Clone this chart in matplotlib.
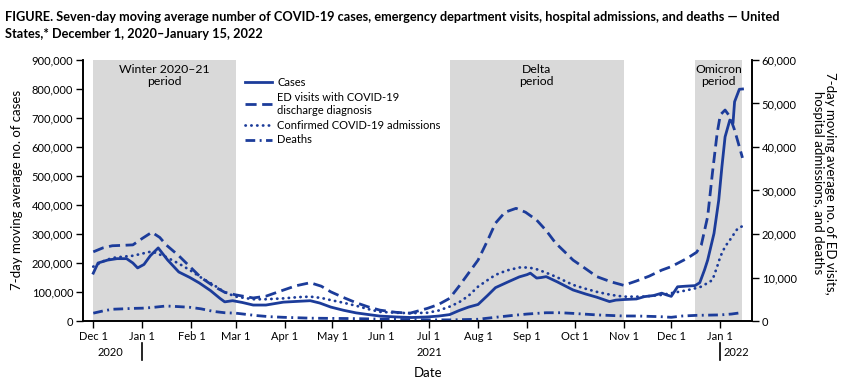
import pandas as pd
import matplotlib
matplotlib.use("Agg")
import matplotlib.pyplot as plt
import matplotlib.transforms as mtransforms
from matplotlib.ticker import FuncFormatter

plt.rcParams["font.family"] = ["Lato", "DejaVu Sans"]

# ---- data ----
case_dates = ["2020-12-01", "2020-12-04", "2020-12-10", "2020-12-16", "2020-12-22", "2020-12-26",
              "2020-12-29", "2021-01-02", "2021-01-06", "2021-01-11", "2021-01-17", "2021-01-24",
              "2021-01-31", "2021-02-06", "2021-02-13", "2021-02-19", "2021-02-22", "2021-02-27",
              "2021-03-05", "2021-03-12", "2021-03-20", "2021-03-31", "2021-04-10", "2021-04-17",
              "2021-04-23", "2021-04-30", "2021-05-08", "2021-05-16", "2021-05-24", "2021-05-31",
              "2021-06-10", "2021-06-20", "2021-06-30", "2021-07-07", "2021-07-14", "2021-07-20",
              "2021-07-26", "2021-08-01", "2021-08-07", "2021-08-12", "2021-08-20", "2021-08-27",
              "2021-09-01", "2021-09-03", "2021-09-07", "2021-09-10", "2021-09-13", "2021-09-20",
              "2021-09-30", "2021-10-08", "2021-10-15", "2021-10-23", "2021-10-27", "2021-11-01",
              "2021-11-09", "2021-11-14", "2021-11-20", "2021-11-25", "2021-11-28", "2021-12-01",
              "2021-12-05", "2021-12-10", "2021-12-16", "2021-12-19", "2021-12-22", "2021-12-24",
              "2021-12-28", "2021-12-31", "2022-01-02", "2022-01-04", "2022-01-07", "2022-01-09",
              "2022-01-10", "2022-01-13", "2022-01-15"]
cases = [165000, 200000, 210000, 215000, 215000, 200000,
         183000, 195000, 225000, 252000, 210000, 169000,
         150000, 131000, 105000, 78000, 66000, 70000,
         64000, 55000, 55000, 65000, 68000, 70000,
         62000, 48000, 37000, 28000, 22000, 17000,
         14000, 12000, 14000, 17000, 22000, 36000,
         48000, 57000, 88000, 115000, 135000, 152000,
         160000, 165000, 148000, 150000, 153000, 135000,
         107000, 93000, 82000, 67000, 72000, 74000,
         76000, 84000, 88000, 96000, 90000, 85000,
         118000, 120000, 122000, 132000, 176000, 210000,
         302000, 417000, 532000, 635000, 693000, 682000,
         756000, 799000, 800000]

ed_dates = ["2020-12-01", "2020-12-07", "2020-12-13", "2020-12-20", "2020-12-26", "2021-01-01",
            "2021-01-07", "2021-01-12", "2021-01-16", "2021-01-24", "2021-01-31", "2021-02-07",
            "2021-02-15", "2021-02-22", "2021-03-01", "2021-03-12", "2021-03-20", "2021-03-31",
            "2021-04-08", "2021-04-17", "2021-04-24", "2021-04-30", "2021-05-08", "2021-05-16",
            "2021-05-24", "2021-05-31", "2021-06-10", "2021-06-19", "2021-06-30", "2021-07-07",
            "2021-07-14", "2021-07-20", "2021-07-26", "2021-08-01", "2021-08-07", "2021-08-12",
            "2021-08-18", "2021-08-25", "2021-08-31", "2021-09-07", "2021-09-13", "2021-09-19",
            "2021-09-25", "2021-09-30", "2021-10-08", "2021-10-15", "2021-10-24", "2021-11-01",
            "2021-11-09", "2021-11-17", "2021-11-25", "2021-12-01", "2021-12-11", "2021-12-17",
            "2021-12-20", "2021-12-24", "2021-12-27", "2021-12-30", "2022-01-01", "2022-01-04",
            "2022-01-07", "2022-01-10", "2022-01-15"]
ed_visits = [15900, 16800, 17300, 17400, 17500, 19000,
             20400, 19200, 17500, 15000, 12500, 10000,
             8000, 6600, 6000, 5300, 5700, 7100,
             8100, 8800, 8000, 6700, 5400, 4200,
             3200, 2500, 2000, 1800, 2900, 3800,
             5200, 8000, 11000, 14000, 18500, 22500,
             25000, 25900, 25000, 23200, 20800, 17900,
             15800, 14000, 12000, 10200, 9000, 8200,
             9200, 10300, 11700, 12500, 14400, 15800,
             17500, 24000, 34000, 43200, 47400, 48500,
             47000, 43900, 37500]

adm_dates = ["2020-12-01", "2020-12-07", "2020-12-13", "2020-12-20", "2020-12-26", "2021-01-01",
             "2021-01-07", "2021-01-16", "2021-01-24", "2021-01-31", "2021-02-07", "2021-02-15",
             "2021-02-22", "2021-03-01", "2021-03-12", "2021-03-20", "2021-03-31", "2021-04-10",
             "2021-04-17", "2021-04-24", "2021-04-30", "2021-05-08", "2021-05-16", "2021-05-24",
             "2021-05-31", "2021-06-10", "2021-06-19", "2021-06-30", "2021-07-07", "2021-07-14",
             "2021-07-20", "2021-07-26", "2021-08-01", "2021-08-07", "2021-08-12", "2021-08-19",
             "2021-08-27", "2021-09-02", "2021-09-07", "2021-09-13", "2021-09-19", "2021-09-30",
             "2021-10-08", "2021-10-15", "2021-10-24", "2021-11-01", "2021-11-13", "2021-11-25",
             "2021-12-01", "2021-12-10", "2021-12-16", "2021-12-20", "2021-12-27", "2021-12-30",
             "2022-01-01", "2022-01-04", "2022-01-07", "2022-01-12", "2022-01-15"]
admissions = [12500, 13700, 14500, 14800, 15000, 15500,
              16000, 14700, 13200, 11700, 10000, 8300,
              6600, 5600, 5000, 5000, 5200, 5500,
              5600, 5300, 4800, 4200, 3500, 2700,
              2100, 1900, 1800, 1900, 2400, 3300,
              4300, 5800, 7900, 9400, 10600, 11600,
              12300, 12300, 11900, 11100, 10200, 8300,
              7400, 6700, 6000, 5600, 5600, 6000,
              6400, 7000, 7500, 7900, 9400, 12500,
              14800, 17100, 18600, 21300, 21800]

death_dates = ["2020-12-01", "2020-12-07", "2020-12-13", "2020-12-20", "2020-12-26", "2021-01-01",
               "2021-01-07", "2021-01-16", "2021-01-24", "2021-01-31", "2021-02-07", "2021-02-15",
               "2021-02-22", "2021-03-01", "2021-03-08", "2021-03-14", "2021-03-22", "2021-03-31",
               "2021-04-17", "2021-05-01", "2021-05-16", "2021-06-01", "2021-06-15", "2021-07-01",
               "2021-07-15", "2021-08-01", "2021-08-12", "2021-08-22", "2021-09-01", "2021-09-13",
               "2021-09-22", "2021-09-30", "2021-10-15", "2021-11-01", "2021-11-09", "2021-11-24",
               "2021-12-01", "2021-12-08", "2021-12-17", "2022-01-01", "2022-01-08", "2022-01-15"]
deaths = [1800, 2300, 2700, 2800, 2900, 2950,
          3100, 3450, 3300, 3150, 2800, 2200,
          1900, 1800, 1500, 1250, 1000, 850,
          650, 600, 550, 420, 330, 260,
          260, 400, 850, 1250, 1600, 1900,
          1900, 1750, 1400, 1150, 1150, 1000,
          850, 1150, 1300, 1400, 1600, 1950]

periods = [("2020-12-01", "2021-03-01", "Winter 2020–21\nperiod"),
           ("2021-07-14", "2021-11-01", "Delta\nperiod"),
           ("2021-12-16", "2022-01-15", "Omicron\nperiod")]

month_ticks = pd.date_range("2020-12-01", "2022-01-01", freq="MS")
month_labels = [d.strftime("%b ") + str(d.day) for d in month_ticks]

blue = "#1c3c9a"
shade = "#d9d9d9"

fig = plt.figure(figsize=(8.5, 3.83), dpi=100)
ax = fig.add_axes([83 / 850, 1 - 321 / 383, 669 / 850, 261 / 383])
ax2 = ax.twinx()

trans = mtransforms.blended_transform_factory(ax.transData, ax.transAxes)
for start, end, name in periods:
    s, e = pd.Timestamp(start), pd.Timestamp(end)
    ax.axvspan(s, e, color=shade, lw=0, zorder=0)
    mid = s + (e - s) / 2
    ax.text(mid, 0.985, name, transform=trans, ha="center", va="top",
            fontsize=8.8, linespacing=1.15)

l1, = ax.plot(pd.to_datetime(case_dates), cases, color=blue, lw=2, label="Cases")
l2, = ax2.plot(pd.to_datetime(ed_dates), ed_visits, color=blue, lw=2, dashes=(4, 2),
               label="ED visits with COVID-19\ndischarge diagnosis")
l3, = ax2.plot(pd.to_datetime(adm_dates), admissions, color=blue, lw=2, dashes=(0.1, 2.0),
               dash_capstyle="round", label="Confirmed COVID-19 admissions")
l4, = ax2.plot(pd.to_datetime(death_dates), deaths, color=blue, lw=2, dashes=(3.5, 1.6, 0.7, 1.6),
               label="Deaths")

ax.set_xlim(pd.Timestamp("2020-11-24 12:00"), pd.Timestamp("2022-01-21"))
ax.set_ylim(0, 900000)
ax2.set_ylim(0, 60000)
ax.set_yticks(range(0, 900001, 100000))
ax2.set_yticks(range(0, 60001, 10000))
fmt = FuncFormatter(lambda v, p: f"{int(v):,}")
ax.yaxis.set_major_formatter(fmt)
ax2.yaxis.set_major_formatter(fmt)
ax.set_xticks(month_ticks)
ax.set_xticklabels(month_labels)

for a in (ax, ax2):
    a.spines["top"].set_visible(False)
    for sp in ("left", "right", "bottom"):
        a.spines[sp].set_linewidth(1.2)
    a.tick_params(direction="out", length=5, width=1, labelsize=8, pad=2)

# year labels and separators under the month ticks
for d, yr in [("2020-12-12", "2020"), ("2021-07-01", "2021"), ("2022-01-11", "2022")]:
    ax.text(pd.Timestamp(d), -0.119, yr, transform=trans, ha="center", va="center", fontsize=8)
for d in ["2021-01-01", "2022-01-01"]:
    ax.plot([pd.Timestamp(d)] * 2, [-0.084, -0.149], transform=trans, color="black",
            lw=1.2, clip_on=False)

fig.text(428 / 850, 1 - 373 / 383, "Date", ha="center", va="center", fontsize=9.5)
fig.text(17 / 850, 1 - 190 / 383, "7-day moving average no. of cases", rotation=90,
         ha="center", va="center", fontsize=9.5)
fig.text(824 / 850, 1 - 183 / 383,
         "7-day moving average no. of ED visits,\nhospital admissions, and deaths",
         rotation=-90, ha="center", va="center", fontsize=9.5, multialignment="center",
         linespacing=1.1)

ax2.legend(handles=[l1, l2, l3, l4], loc="upper left", bbox_to_anchor=(245 / 850, 1 - 77 / 383),
           bbox_transform=fig.transFigure, frameon=False, fontsize=8, borderpad=0,
           borderaxespad=0, handlelength=2.4, handletextpad=0.5, labelspacing=0.35)

fig.text(0.006, 1 - 17 / 383,
         "FIGURE. Seven-day moving average number of COVID-19 cases, emergency department visits, "
         "hospital admissions, and deaths — United",
         ha="left", va="center", fontsize=9.2, fontweight="bold")
fig.text(0.006, 1 - 34 / 383, "States,* December 1, 2020–January 15, 2022",
         ha="left", va="center", fontsize=9.2, fontweight="bold")

fig.savefig("out.png", dpi=100)
